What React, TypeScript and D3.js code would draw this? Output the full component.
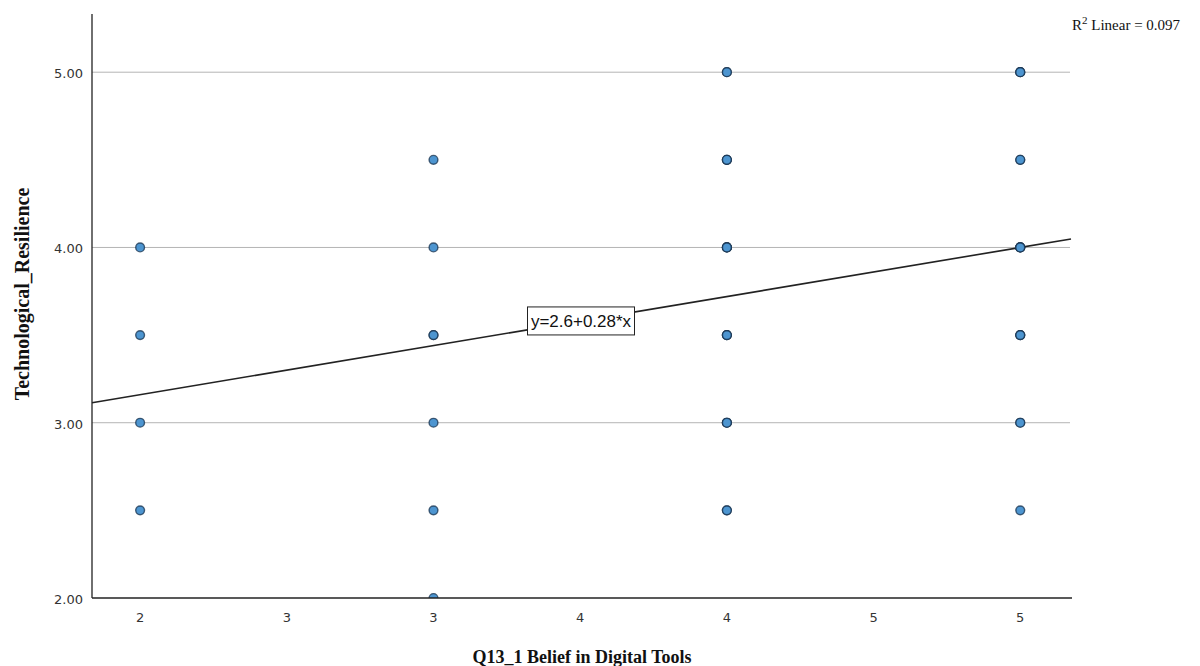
import React from "react";
import * as d3 from "d3";

// Observed scores: belief in digital tools (x) vs technological resilience (y)
const beliefScores = [2, 2, 2, 2, 3, 3, 3, 3, 3, 3, 4, 4, 4, 4, 4, 4, 5, 5, 5, 5, 5, 5];
const resilienceScores = [4, 3.5, 3, 2.5, 4.5, 4, 3.5, 3, 2.5, 2, 5, 4.5, 4, 3.5, 3, 2.5, 5, 4.5, 4, 3.5, 3, 2.5];
// Number of respondents sharing each (x, y) pair
const pointCounts = [1, 1, 1, 1, 1, 1, 2, 1, 1, 1, 2, 3, 4, 3, 3, 2, 3, 2, 4, 3, 2, 1];

const xTicks = [2, 2.5, 3, 3.5, 4, 4.5, 5];
const yTicks = [2, 3, 4, 5];

const fitIntercept = 2.6;
const fitSlope = 0.28;
const rSquared = 0.097;

const W = 1200;
const H = 666;

export default function App() {
  const left = 92;
  const right = 1071;
  const top = 14;
  const bottom = 598;

  const x = d3.scaleLinear().domain([1.836, 5.173]).range([left, right]);
  const y = d3.scaleLinear().domain([2, 5.332]).range([bottom, top]);

  const fitLine = d3
    .line<number>()
    .x((d) => x(d))
    .y((d) => y(fitIntercept + fitSlope * d));
  const xDomain = x.domain();

  const fmtX = (v: number) => String(Math.floor(v + 0.5));
  const fmtY = d3.format(".2f");

  // equation label sits on the fit line
  const eqAt = x.invert(581);
  const eqX = x(eqAt);
  const eqY = y(fitIntercept + fitSlope * eqAt);

  return (
    <svg
      width={W}
      height={H}
      style={{ position: "absolute", left: 0, top: 0, background: "#fff" }}
    >
      <defs>
        <clipPath id="plotClip">
          <rect x={left} y={0} width={right - left + 10} height={bottom} />
        </clipPath>
      </defs>
      <rect x={0} y={0} width={W} height={H} fill="#fff" />
      {/* horizontal gridlines */}
      {yTicks
        .filter((t) => t > 2)
        .map((t) => (
          <line
            key={"g" + t}
            x1={left}
            x2={right - 1}
            y1={y(t)}
            y2={y(t)}
            stroke="#b4b4b4"
            strokeWidth={1}
          />
        ))}

      {yTicks.map((t) => (
        <text
          key={"yt" + t}
          x={83}
          y={y(t) + 6}
          textAnchor="end"
          fontFamily="'DejaVu Sans', sans-serif"
          fontSize={13}
          fill="#333"
        >
          {fmtY(t)}
        </text>
      ))}
      {xTicks.map((t) => (
        <text
          key={"xt" + t}
          x={x(t)}
          y={622}
          textAnchor="middle"
          fontFamily="'DejaVu Sans', sans-serif"
          fontSize={13}
          fill="#333"
        >
          {fmtX(t)}
        </text>
      ))}

      {/* fit line */}
      <path d={fitLine([xDomain[0], xDomain[1]]) || ""} fill="none" stroke="#222" strokeWidth={1.6} />

      {/* points */}
      <g clipPath="url(#plotClip)">
        {beliefScores.map((bx, i) =>
          d3.range(pointCounts[i]).map((k) => (
            <circle
              key={"p" + i + "-" + k}
              cx={x(bx)}
              cy={y(resilienceScores[i])}
              r={4.4}
              fill="#4d95d0"
              stroke="#17324d"
              strokeOpacity={0.75}
              strokeWidth={1.4}
            />
          ))
        )}
      </g>

      {/* axes */}
      <line x1={left} x2={left} y1={top} y2={bottom} stroke="#222" strokeWidth={1.3} />
      <line x1={left} x2={right + 1} y1={bottom} y2={bottom} stroke="#222" strokeWidth={1.3} />

      {/* equation label */}
      <g transform={`translate(${eqX},${eqY})`}>
        <rect x={-53.5} y={-14} width={107} height={28} fill="#fff" stroke="#222" strokeWidth={1} />
        <text
          x={0}
          y={6}
          textAnchor="middle"
          fontFamily="'Liberation Sans', Arial, sans-serif"
          fontSize={17}
          fill="#111"
        >
          {`y=${fitIntercept}+${fitSlope}*x`}
        </text>
      </g>

      {/* R squared */}
      <text
        x={1072}
        y={30}
        fontFamily="'Liberation Serif', 'Times New Roman', serif"
        fontSize={15}
        fill="#111"
      >
        R<tspan dy={-6} fontSize={11}>2</tspan>
        <tspan dy={6}>{` Linear = ${rSquared}`}</tspan>
      </text>

      {/* axis titles */}
      <text
        x={582}
        y={663}
        textAnchor="middle"
        fontFamily="'Liberation Serif', 'Times New Roman', serif"
        fontWeight="bold"
        fontSize={18}
        fill="#111"
      >
        Q13_1 Belief in Digital Tools
      </text>
      <text
        transform={`translate(29,${294}) rotate(-90)`}
        textAnchor="middle"
        fontFamily="'Liberation Serif', 'Times New Roman', serif"
        fontWeight="bold"
        fontSize={20}
        fill="#111"
      >
        Technological_Resilience
      </text>
    </svg>
  );
}
